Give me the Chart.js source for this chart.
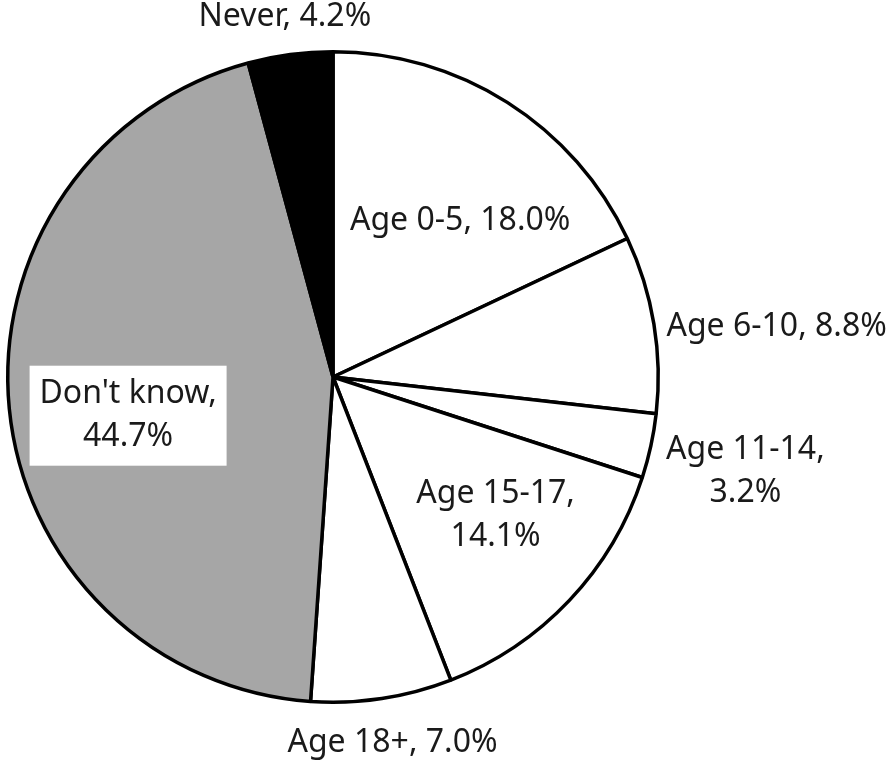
<!DOCTYPE html>
<html>
<head>
<meta charset="utf-8">
<script src="https://cdn.jsdelivr.net/npm/chart.js@4"></script>
<style>
  html, body { margin: 0; padding: 0; background: #fff; }
  #wrap { width: 896px; height: 763px; }
</style>
</head>
<body>
<div id="wrap"><canvas id="myChart" width="896" height="763"></canvas></div>
<script>
// data
const categories = ["Age 0-5", "Age 6-10", "Age 11-14", "Age 15-17", "Age 18+", "Don't know", "Never"];
const shares = [18.0, 8.8, 3.2, 14.1, 7.0, 44.7, 4.2];
const sliceColors = ["#ffffff", "#ffffff", "#ffffff", "#ffffff", "#ffffff", "#a6a6a6", "#000000"];

// label text lines, and where each label sits relative to the pie (in units of radius)
const labelLines = [
  ["Age 0-5, 18.0%"],
  ["Age 6-10, 8.8%"],
  ["Age 11-14,", "3.2%"],
  ["Age 15-17,", "14.1%"],
  ["Age 18+, 7.0%"],
  ["Don't know,", "44.7%"],
  ["Never, 4.2%"]
];
const labelOffsets = [
  [0.391, -0.480], [1.364, -0.153], [1.268, 0.291], [0.500, 0.425],
  [0.183, 1.125], [-0.630, 0.119], [-0.148, -1.107]
];

const FONT = "32px 'Noto Sans'";
const LINE_H = 43;

const pieLabels = {
  id: 'pieLabels',
  afterDatasetsDraw(chart) {
    const ctx = chart.ctx;
    const arcs = chart.getDatasetMeta(0).data;
    if (!arcs.length) return;
    const cx = arcs[0].x, cy = arcs[0].y, r = arcs[0].outerRadius;
    ctx.save();
    ctx.font = FONT;
    ctx.textAlign = 'center';
    ctx.textBaseline = 'middle';
    labelLines.forEach(function(lines, i) {
      const x = cx + labelOffsets[i][0] * r;
      const y = cy + labelOffsets[i][1] * r;
      const y0 = y - (lines.length - 1) * LINE_H / 2;
      if (i === 5) {
        // white box behind the "Don't know" label
        ctx.fillStyle = '#ffffff';
        ctx.fillRect(x - 98.5, y - 50, 197, 100);
      }
      ctx.fillStyle = '#1a1a1a';
      lines.forEach(function(t, k) {
        ctx.fillText(t, x, y0 + k * LINE_H);
      });
    });
    ctx.restore();
  }
};

let chart = document.getElementById('myChart').getContext('2d');

let myChart = new Chart(chart, {
  type: 'pie',
  data: {
    labels: categories,
    datasets: [{
      data: shares,
      backgroundColor: sliceColors,
      borderColor: '#000000',
      borderWidth: 3.5
    }]
  },
  options: {
    responsive: false,
    animation: false,
    layout: { padding: { left: 6, top: 50, right: 236, bottom: 59 } },
    plugins: {
      legend: { display: false },
      tooltip: { enabled: false },
      title: { display: false }
    }
  },
  plugins: [pieLabels]
});
</script>
</body>
</html>
